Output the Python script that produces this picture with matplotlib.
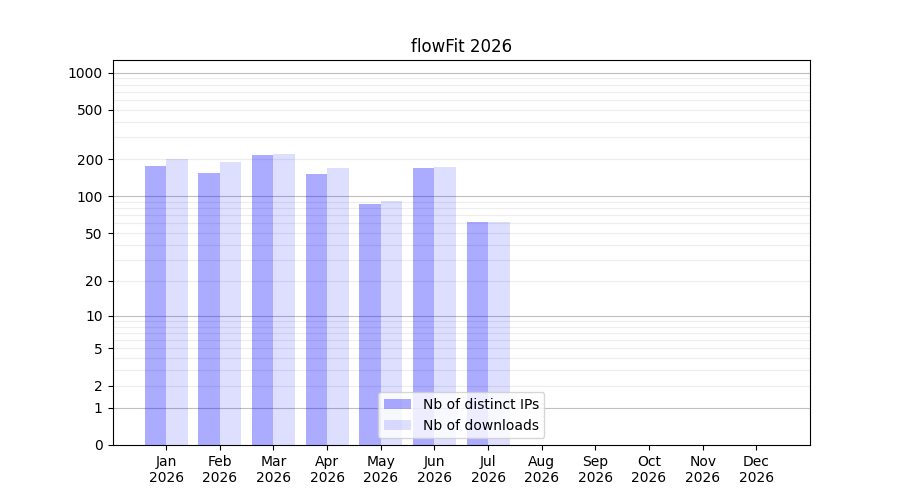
import numpy as np
import matplotlib
matplotlib.use("Agg")
import matplotlib.pyplot as plt

months = ["Jan", "Feb", "Mar", "Apr", "May", "Jun", "Jul", "Aug", "Sep", "Oct", "Nov", "Dec"]
year = "2026"
distinct_ips = [175, 155, 214, 152, 87, 170, 62]
downloads = [200, 190, 220, 170, 91, 173, 62]
ytick_values = [0, 1, 2, 5, 10, 20, 50, 100, 200, 500, 1000]
major_grid = [1, 10, 100, 1000]
minor_grid = [k * 10 ** n for n in range(3) for k in range(2, 10)]

fig, ax = plt.subplots(figsize=(9, 5), dpi=100)

def fwd(y):
    return np.log10(1 + np.clip(y, 0, None))

def inv(y):
    return 10 ** y - 1

ax.set_yscale('function', functions=(fwd, inv))

x = np.arange(len(months))
ax.bar(x[:len(distinct_ips)] - 0.2, distinct_ips, width=0.4, color='blue', alpha=0.33,
       label='Nb of distinct IPs')
ax.bar(x[:len(downloads)] + 0.2, downloads, width=0.4, color='blue', alpha=0.13,
       label='Nb of downloads')

for v in major_grid:
    ax.axhline(v, color='gray', alpha=0.5, lw=0.8, zorder=0.5)
for v in minor_grid:
    ax.axhline(v, color='lightgray', alpha=0.4, lw=0.8, zorder=0.5)

ax.set_yticks(ytick_values)
ax.set_yticklabels([str(v) for v in ytick_values])
ax.yaxis.set_minor_locator(matplotlib.ticker.NullLocator())
ax.set_xticks(x)
ax.set_xticklabels([f"{m}\n{year}" for m in months])
ax.set_xlim(-1, 12)
ax.set_ylim(0, 1262)
ax.set_title(f"flowFit {year}")
ax.legend(loc='lower center')

fig.savefig("out.png", dpi=100)
